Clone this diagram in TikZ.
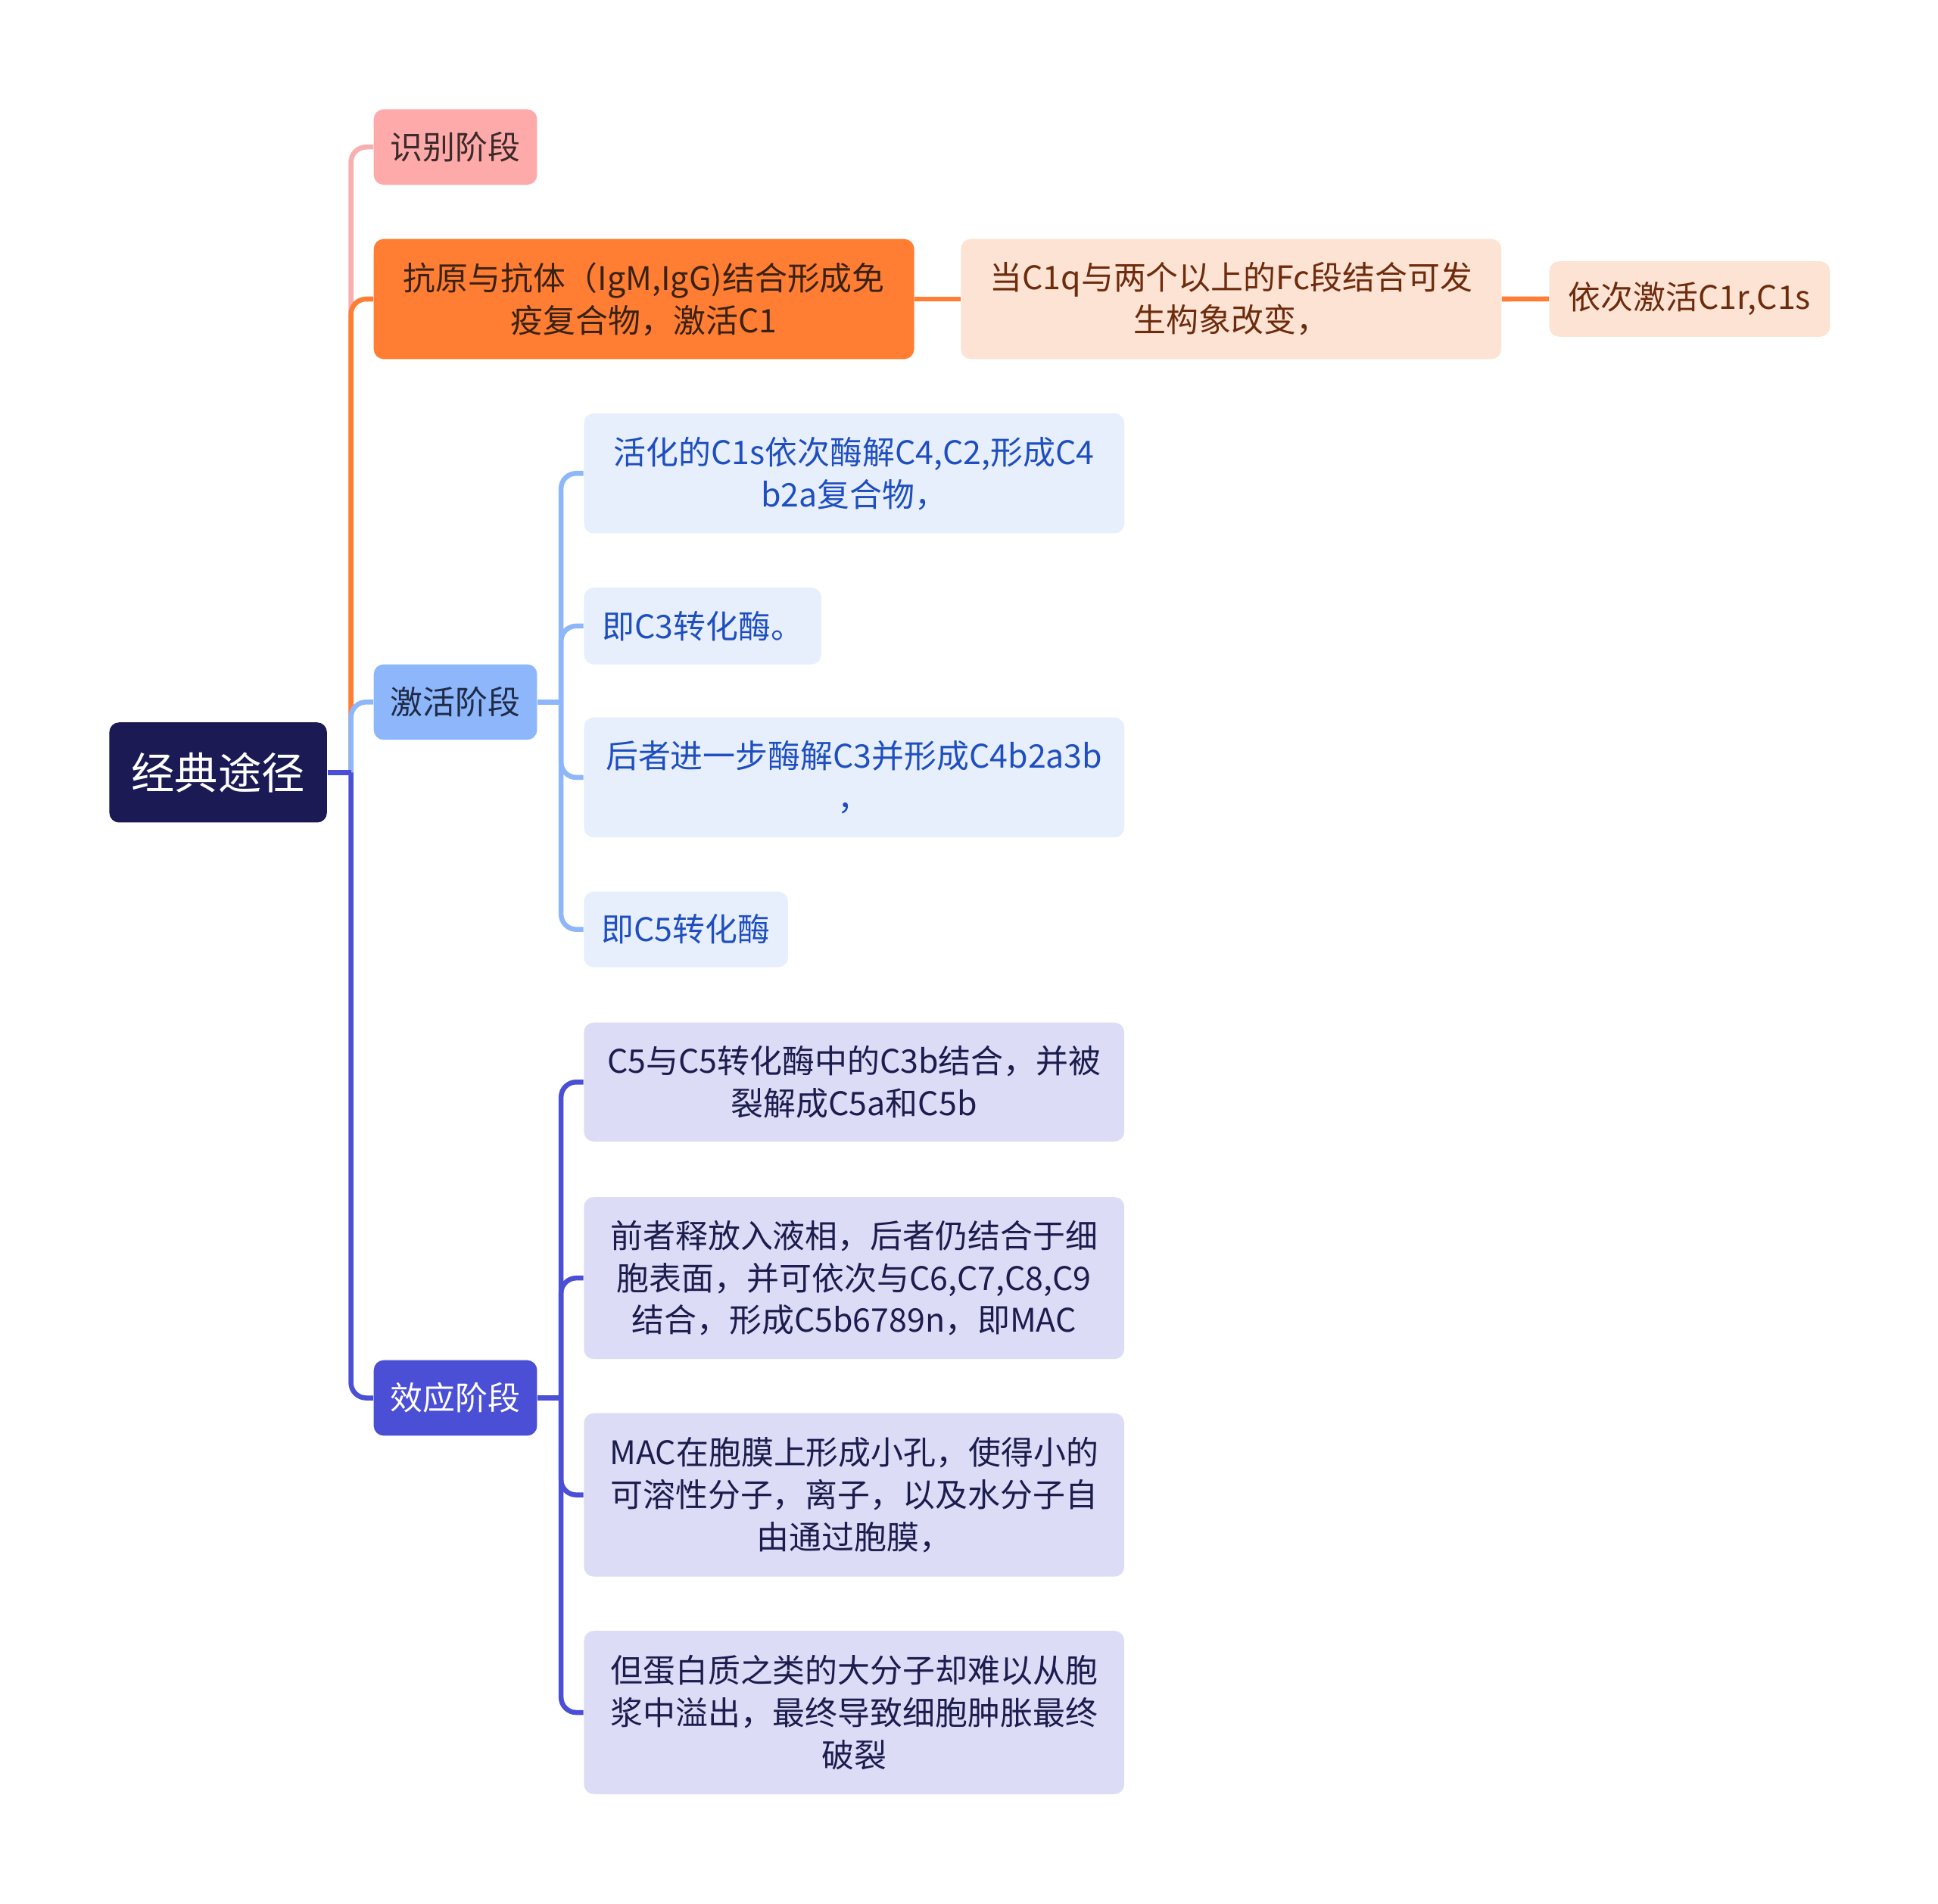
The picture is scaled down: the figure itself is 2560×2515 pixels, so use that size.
\documentclass[tikz,border=0pt]{standalone}
\usepackage{fontspec}
\setmainfont{Noto Sans CJK SC}
\definecolor{rootc}{HTML}{1B1A55}
\definecolor{pinkc}{HTML}{FFAAAA}
\definecolor{pinkline}{HTML}{F9AFAF}
\definecolor{pinktext}{HTML}{3B2A2A}
\definecolor{orangec}{HTML}{FF7E33}
\definecolor{orangetext}{HTML}{3A2213}
\definecolor{peachc}{HTML}{FDE3D3}
\definecolor{peachtext}{HTML}{6E2C0E}
\definecolor{bluec}{HTML}{8DB7FA}
\definecolor{bluetext}{HTML}{1F2B48}
\definecolor{lbluec}{HTML}{E7EFFC}
\definecolor{lbluetext}{HTML}{1F4FBF}
\definecolor{indigoc}{HTML}{4A4FD6}
\definecolor{lindigoc}{HTML}{DCDCF6}
\definecolor{lindigotext}{HTML}{1C1C4E}
\begin{document}
\begin{tikzpicture}[x=0.01cm,y=-0.01cm,
  box/.style={rounded corners=0.13cm, anchor=north west, inner sep=0pt, align=center,
    font=\fontsize{12.2}{15.9}\selectfont},
  lvlone/.style={box, minimum width=2.156cm, minimum height=0.996cm},
  wide/.style={box, minimum width=7.134cm},
  conn/.style={line width=1.85pt, rounded corners=0.2cm},
  stub/.style={line width=1.85pt},
]
\useasboundingbox[fill=white] (0,0) rectangle (2560,2515);

% nodes
\node[box, fill=rootc, text=white, minimum width=2.873cm, minimum height=1.322cm,
  font=\fontsize{16.3}{20}\selectfont] (root) at (143.7,953.5) {经典途径};

\node[lvlone, fill=pinkc, text=pinktext] (rec) at (493,143.7) {识别阶段};
\node[wide, fill=orangec, text=orangetext, minimum height=1.585cm] (ag) at (493,315)
  {抗原与抗体（IgM,IgG)结合形成免\\疫复合物，激活C1};
\node[wide, fill=peachc, text=peachtext, minimum height=1.585cm] (c1q) at (1268.6,315)
  {当C1q与两个以上的Fc段结合可发\\生构象改变，};
\node[box, fill=peachc, text=peachtext, minimum width=3.706cm, minimum height=0.995cm] (c1r) at (2045.8,344.5)
  {依次激活C1r,C1s};

\node[lvlone, fill=bluec, text=bluetext] (act) at (493,876.8) {激活阶段};
\node[wide, fill=lbluec, text=lbluetext, minimum height=1.584cm] (a1) at (770.6,545.3)
  {活化的C1s依次酶解C4,C2,形成C4\\b2a复合物，};
\node[box, fill=lbluec, text=lbluetext, minimum width=3.134cm, minimum height=1.013cm] (a2) at (770.6,775.5)
  {即C3转化酶。};
\node[wide, fill=lbluec, text=lbluetext, minimum height=1.583cm] (a3) at (770.6,947)
  {后者进一步酶解C3并形成C4b2a3b\\，};
\node[box, fill=lbluec, text=lbluetext, minimum width=2.694cm, minimum height=0.998cm] (a4) at (770.6,1177)
  {即C5转化酶};

\node[lvlone, fill=indigoc, text=white] (eff) at (493,1796) {效应阶段};
\node[wide, fill=lindigoc, text=lindigotext, minimum height=1.57cm] (e1) at (770.6,1350)
  {C5与C5转化酶中的C3b结合，并被\\裂解成C5a和C5b};
\node[wide, fill=lindigoc, text=lindigotext, minimum height=2.138cm] (e2) at (770.6,1580.5)
  {前者释放入液相，后者仍结合于细\\胞表面，并可依次与C6,C7,C8,C9\\结合，形成C5b6789n，即MAC};
\node[wide, fill=lindigoc, text=lindigotext, minimum height=2.157cm] (e3) at (770.6,1866)
  {MAC在胞膜上形成小孔，使得小的\\可溶性分子，离子，以及水分子自\\由通过胞膜，};
\node[wide, fill=lindigoc, text=lindigotext, minimum height=2.155cm] (e4) at (770.6,2153.5)
  {但蛋白质之类的大分子却难以从胞\\浆中溢出，最终导致细胞肿胀最终\\破裂};

% junctions
\coordinate (j0) at ([xshift=0.31cm]root.east);
\coordinate (j1) at ([xshift=0.31cm]act.east);
\coordinate (j2) at ([xshift=0.31cm]eff.east);

% level-1 connectors
\draw[conn, pinkline] (j0) |- (rec.west);
\draw[conn, orangec] (j0) |- (ag.west);
\draw[conn, bluec] (j0) |- (act.west);
\draw[conn, indigoc] (j0) |- (eff.west);
\draw[stub, indigoc] (root.east) -- (j0);

% orange chain
\draw[stub, orangec] (ag.east) -- (c1q.west);
\draw[stub, orangec] (c1q.east) -- (c1r.west);

% blue children
\draw[stub, bluec] (act.east) -- (j1);
\draw[conn, bluec] (j1) |- (a1.west);
\draw[conn, bluec] (j1) |- (a2.west);
\draw[conn, bluec] (j1) |- (a3.west);
\draw[conn, bluec] (j1) |- (a4.west);

% indigo children
\draw[stub, indigoc] (eff.east) -- (j2);
\draw[conn, indigoc] (j2) |- (e1.west);
\draw[conn, indigoc] (j2) |- (e2.west);
\draw[conn, indigoc] (j2) |- (e3.west);
\draw[conn, indigoc] (j2) |- (e4.west);
\end{tikzpicture}
\end{document}
